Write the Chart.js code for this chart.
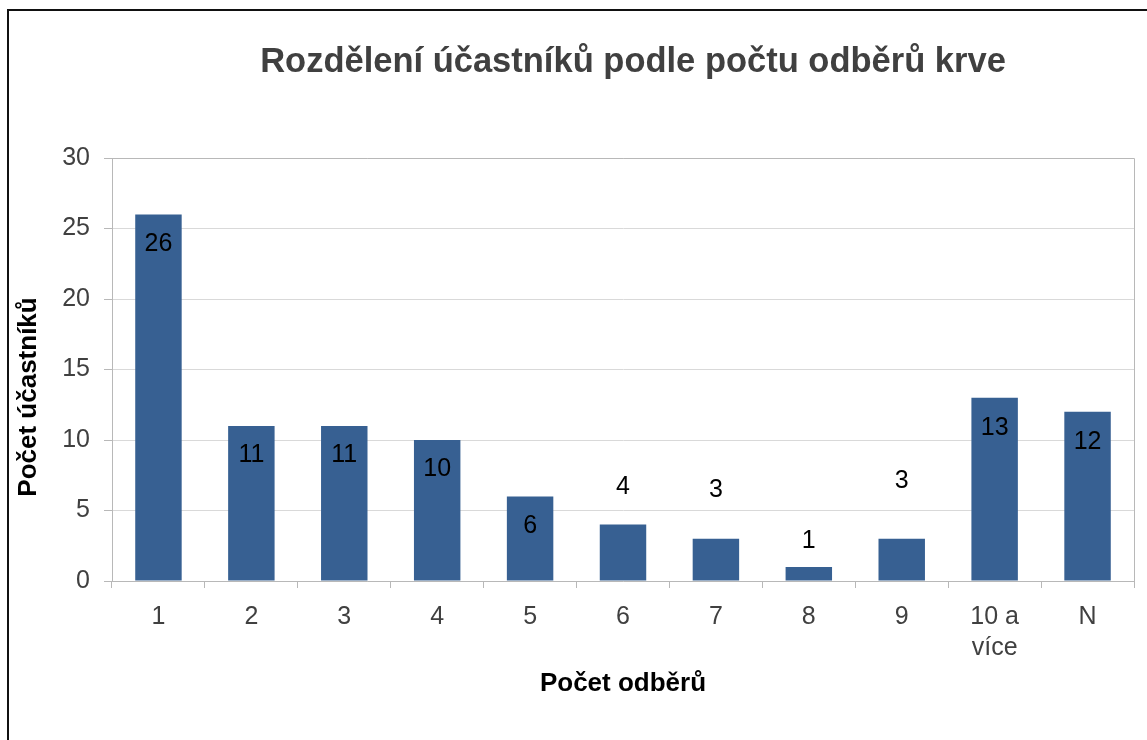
<!DOCTYPE html>
<html>
<head>
<meta charset="utf-8">
<script src="https://cdn.jsdelivr.net/npm/chart.js@4"></script>
<style>
  body { margin: 0; background: #fff; }
  #wrap { position: relative; width: 1147px; height: 740px; }
</style>
</head>
<body>
<div id="wrap"><canvas id="chart"></canvas></div>
<script>
const categories = ['1', '2', '3', '4', '5', '6', '7', '8', '9', ['10 a', 'více'], 'N'];
const counts = [26, 11, 11, 10, 6, 4, 3, 1, 3, 13, 12];
const yTicks = [0, 5, 10, 15, 20, 25, 30];

const chartTitle = 'Rozdělení účastníků podle počtu odběrů krve';
const xTitle = 'Počet odběrů';
const yTitle = 'Počet účastníků';

// label shift from bar top (px), labels were moved by hand in the original
const labelShift = [30, 29, 29, 29, 30, -37, -49, -26, -58, 30, 30];

const FONT = 'Liberation Sans, Arial, sans-serif';

// frame, plot border, titles and value labels
const decor = {
    id: 'decor',
    beforeDraw(chart) {
        const ctx = chart.ctx;
        ctx.save();
        ctx.fillStyle = '#111';
        ctx.fillRect(7, 9, 2, 740);
        ctx.fillRect(7, 9, 1147, 2);
        ctx.restore();
    },
    afterDraw(chart) {
        const ctx = chart.ctx;
        const a = chart.chartArea;
        ctx.save();
        ctx.strokeStyle = '#b8b8b8';
        ctx.lineWidth = 1;
        ctx.beginPath();
        ctx.moveTo(a.left, a.top + 0.5);
        ctx.lineTo(a.right + 0.5, a.top + 0.5);
        ctx.lineTo(a.right + 0.5, a.bottom);
        ctx.stroke();

        ctx.textAlign = 'center';
        ctx.textBaseline = 'middle';
        ctx.fillStyle = '#404040';
        ctx.font = 'bold 34.5px ' + FONT;
        ctx.fillText(chartTitle, (a.left + a.right) / 2 + 10, 62);

        ctx.fillStyle = '#000';
        ctx.font = 'bold 26px ' + FONT;
        ctx.fillText(xTitle, (a.left + a.right) / 2, 684);

        ctx.save();
        ctx.translate(29, 397);
        ctx.rotate(-Math.PI / 2);
        ctx.fillText(yTitle, 0, 0);
        ctx.restore();

        ctx.font = '25px ' + FONT;
        const meta = chart.getDatasetMeta(0);
        meta.data.forEach((bar, i) => {
            ctx.fillText(String(counts[i]), bar.x, bar.y + labelShift[i]);
        });
        ctx.restore();
    }
};

new Chart(document.getElementById('chart'), {
    type: 'bar',
    data: {
        labels: categories,
        datasets: [{
            data: counts,
            backgroundColor: '#376092',
            barPercentage: 0.5,
            categoryPercentage: 1
        }]
    },
    options: {
        responsive: true,
        maintainAspectRatio: false,
        animation: false,
        layout: { padding: { top: 158, right: 13, left: 0, bottom: 0 } },
        plugins: {
            legend: { display: false },
            tooltip: { enabled: false }
        },
        scales: {
            x: {
                afterFit: s => { s.height = 159; },
                grid: {
                    offset: true,
                    drawOnChartArea: false,
                    tickLength: 7,
                    tickColor: '#b8b8b8'
                },
                border: { color: '#b8b8b8' },
                ticks: {
                    color: '#404040',
                    padding: 13,
                    maxRotation: 0,
                    font: { family: FONT, size: 25, lineHeight: 1.25 }
                }
            },
            y: {
                min: 0,
                max: 30,
                afterFit: s => { s.width = 112; },
                afterBuildTicks: s => { s.ticks = yTicks.map(v => ({ value: v })); },
                grid: {
                    color: '#d9d9d9',
                    tickLength: 8,
                    tickColor: '#b8b8b8'
                },
                border: { color: '#b8b8b8' },
                ticks: {
                    color: '#404040',
                    padding: 14,
                    font: { family: FONT, size: 25 }
                }
            }
        }
    },
    plugins: [decor]
});
</script>
</body>
</html>
